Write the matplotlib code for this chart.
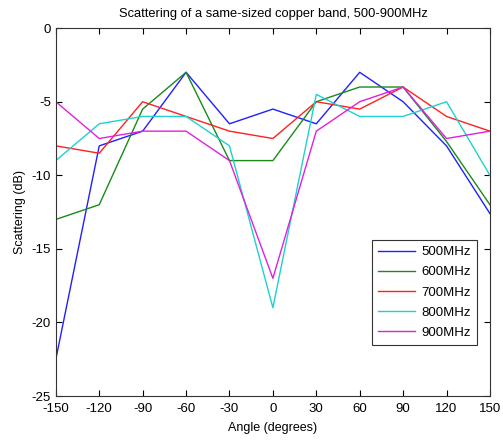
import matplotlib
matplotlib.use('Agg')
import matplotlib.pyplot as plt

plt.rcParams['font.family'] = ['Liberation Sans', 'DejaVu Sans']
plt.rcParams['axes.unicode_minus'] = False

angles = [-150, -120, -90, -60, -30, 0, 30, 60, 90, 120, 150]
s500 = [-22.5, -8.0, -7.0, -3.0, -6.5, -5.5, -6.5, -3.0, -5.0, -8.0, -12.6]
s600 = [-13.0, -12.0, -5.5, -3.0, -9.0, -9.0, -5.0, -4.0, -4.0, -7.7, -12.0]
s700 = [-8.0, -8.5, -5.0, -6.0, -7.0, -7.5, -5.0, -5.5, -4.0, -6.0, -7.0]
s800 = [-9.0, -6.5, -6.0, -6.0, -8.0, -19.0, -4.5, -6.0, -6.0, -5.0, -10.0]
s900 = [-5.0, -7.5, -7.0, -7.0, -9.0, -17.0, -7.0, -5.0, -4.0, -7.5, -7.0]
labels = ['500MHz', '600MHz', '700MHz', '800MHz', '900MHz']
colors = ['#2020ff', '#1a8a1a', '#ff2020', '#20d0d0', '#e020e0']

fig = plt.figure(figsize=(5.03, 4.40), dpi=100)
ax = fig.add_axes([0.111, 0.1, 0.863, 0.836])

for ys, lab, c in zip([s500, s600, s700, s800, s900], labels, colors):
    ax.plot(angles, ys, color=c, lw=1.0, label=lab)

ax.set_xlim(-150, 150)
ax.set_ylim(-25, 0)
ax.set_xticks(angles)
ax.set_yticks([-25, -20, -15, -10, -5, 0])
ax.tick_params(direction='in', top=True, right=True, labelsize=9.5, length=4)
ax.tick_params(axis='x', pad=5)
for sp in ax.spines.values():
    sp.set_color('#333333')
ax.set_xlabel('Angle (degrees)', fontsize=9, labelpad=5)
ax.set_ylabel('Scattering (dB)', fontsize=9)
ax.set_title('Scattering of a same-sized copper band, 500-900MHz', fontsize=9.3, pad=8)

leg = ax.legend(loc='lower right', bbox_to_anchor=(0.97, 0.139), fontsize=9.5,
                fancybox=False, framealpha=1, edgecolor='#333333', borderaxespad=0,
                handlelength=2.8, handletextpad=0.5, borderpad=0.45, labelspacing=0.6)
leg.get_frame().set_linewidth(0.8)

fig.savefig('out.png', dpi=100)
